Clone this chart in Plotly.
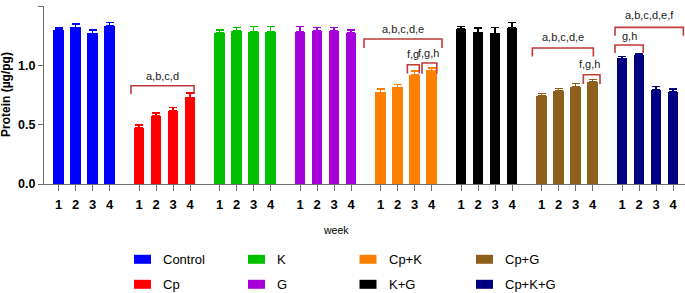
import plotly.graph_objects as go

# ---------------- data ----------------
groups = ["Control", "Cp", "K", "G", "Cp+K", "K+G", "Cp+G", "Cp+K+G"]
weeks = ["1", "2", "3", "4"]
colors = ["#0000FF", "#FF0000", "#00C000", "#A600DC", "#FF8000", "#000000", "#8F5F1E", "#000080"]

control = [1.30, 1.32, 1.27, 1.33]
cp = [0.474, 0.573, 0.618, 0.730]
k = [1.272, 1.292, 1.283, 1.283]
g = [1.283, 1.292, 1.292, 1.275]
cp_k = [0.772, 0.814, 0.921, 0.957]
k_g = [1.306, 1.278, 1.270, 1.315]
cp_g = [0.744, 0.787, 0.817, 0.860]
cp_k_g = [1.059, 1.087, 0.792, 0.775]

control_err = [0.015, 0.028, 0.028, 0.032]
cp_err = [0.023, 0.025, 0.028, 0.037]
k_err = [0.026, 0.025, 0.043, 0.043]
g_err = [0.043, 0.025, 0.028, 0.023]
cp_k_err = [0.028, 0.023, 0.031, 0.020]
k_g_err = [0.020, 0.037, 0.050, 0.044]
cp_g_err = [0.017, 0.016, 0.028, 0.019]
cp_k_g_err = [0.016, 0.014, 0.028, 0.025]

values = [control, cp, k, g, cp_k, k_g, cp_g, cp_k_g]
errors = [control_err, cp_err, k_err, g_err, cp_k_err, k_g_err, cp_g_err, cp_k_g_err]

# significance brackets: (group, start week pos, end week pos, top y, end y, label, label week pos, label y)
brackets = [
    ("Cp", 0.53, 4.24, 0.828, 0.758, "a,b,c,d", 2.38, 0.91),
    ("Cp+K", 0.03, 4.62, 1.222, 1.146, "a,b,c,d,e", 2.32, 1.306),
    ("Cp+K", 2.58, 3.28, 1.005, 0.932, "f,g", 2.93, 1.095),
    ("Cp+K", 3.44, 4.31, 1.020, 0.930, "f,g,h", 3.85, 1.10),
    ("Cp+G", 0.46, 4.05, 1.146, 1.075, "a,b,c,d,e", 2.24, 1.236),
    ("Cp+G", 3.46, 4.44, 0.921, 0.843, "f,g,h", 3.85, 1.011),
    ("Cp+K+G", 0.59, 4.61, 1.320, 1.250, "a,b,c,d,e,f", 2.59, 1.42),
    ("Cp+K+G", 0.59, 2.25, 1.171, 1.104, "g,h", 1.45, 1.25),
]

# ---------------- layout helpers ----------------
GROUP_STEP = 4.735
FONT = "Arial, Liberation Sans, sans-serif"
BRACKET_COLOR = "#C03A3A"

W, H = 685, 293
ML, MR, MT, MB = 44, 0, 6, 109
PW = W - ML - MR
PH = H - MT - MB

def xpos(gi, wi):
    return gi * GROUP_STEP + wi

def px_x(p):
    return (p - ML) / PW

def px_y(p):
    return (H - MB - p) / PH

fig = go.Figure()
for gi, (name, vals, errs, col) in enumerate(zip(groups, values, errors, colors)):
    fig.add_trace(go.Bar(
        x=[xpos(gi, wi) for wi in range(len(weeks))],
        y=vals,
        name=name,
        width=0.62,
        marker=dict(color=col, line=dict(width=0)),
        error_y=dict(type="data", array=errs, arrayminus=[0] * len(errs),
                     color=col, thickness=1.5, width=4),
        showlegend=False,
    ))

for grp, s, e, yt, yb, lab, lx, ly in brackets:
    gi = groups.index(grp)
    x0 = xpos(gi, s - 1)
    x1 = xpos(gi, e - 1)
    fig.add_shape(type="path", xref="x", yref="y",
                  path=f"M {x0},{yb} L {x0},{yt} L {x1},{yt} L {x1},{yb}",
                  line=dict(color=BRACKET_COLOR, width=1.6))
    fig.add_annotation(x=xpos(gi, lx - 1), y=ly, xref="x", yref="y", text=lab,
                       showarrow=False, font=dict(family=FONT, size=11, color="#222222"),
                       xanchor="center", yanchor="middle")

# ---------------- legend (two rows, column-major) ----------------
LEG_COL_X = [134, 248, 359.5, 476]
LEG_ROW_Y = [259.3, 284.3]
SW_W, SW_H = 17, 9
for gi, (name, col) in enumerate(zip(groups, colors)):
    cx = LEG_COL_X[gi // 2]
    cy = LEG_ROW_Y[gi % 2]
    fig.add_shape(type="rect", xref="paper", yref="paper",
                  x0=px_x(cx), x1=px_x(cx + SW_W), y0=px_y(cy - SW_H / 2), y1=px_y(cy + SW_H / 2),
                  fillcolor=col, line=dict(width=0))
    fig.add_annotation(x=px_x(cx + SW_W + 10), y=px_y(cy), xref="paper", yref="paper",
                       text=name, showarrow=False, xanchor="left", yanchor="middle",
                       font=dict(family=FONT, size=13, color="#000000"))

tickvals = [xpos(gi, wi) for gi in range(len(groups)) for wi in range(len(weeks))]
ticktext = [w for _ in groups for w in weeks]

fig.update_layout(
    width=W, height=H,
    margin=dict(l=ML, r=MR, t=MT, b=MB, pad=0, autoexpand=False),
    plot_bgcolor="white", paper_bgcolor="white",
    bargap=0,
    showlegend=False,
    font=dict(family=FONT, color="#000000"),
    xaxis=dict(range=[-0.853, 36.85], tickvals=tickvals, ticktext=ticktext,
               showline=True, linecolor="#6E6E6E", linewidth=1.2,
               ticks="outside", ticklen=6, tickcolor="#6E6E6E", tickwidth=1.2,
               ticklabelstandoff=2,
               tickfont=dict(family=FONT, size=13, color="#000000", weight="bold"),
               showgrid=False, zeroline=False, fixedrange=True, automargin=False),
    yaxis=dict(range=[0, 1.5], tickvals=[0, 0.5, 1.0, 1.5], tickformat=".1f",
               showline=True, linecolor="#6E6E6E", linewidth=1.2,
               ticks="outside", ticklen=5, tickcolor="#6E6E6E", tickwidth=1.2,
               tickfont=dict(family=FONT, size=12.5, color="#000000", weight="bold"),
               showgrid=False, zeroline=False, fixedrange=True, automargin=False),
)

fig.add_annotation(x=px_x(6), y=0.5, xref="paper", yref="paper", text="<b>Protein (µg/pg)</b>",
                   textangle=-90, showarrow=False, xanchor="center", yanchor="middle",
                   font=dict(family=FONT, size=12, color="#000000"))
fig.add_annotation(x=px_x(336), y=px_y(230), xref="paper", yref="paper", text="week",
                   showarrow=False, xanchor="center", yanchor="middle",
                   font=dict(family=FONT, size=10.5, color="#000000"))

fig.write_html("out.html", config={"displayModeBar": False},
               post_script="document.body.style.margin='0';document.body.style.overflow='hidden';")
